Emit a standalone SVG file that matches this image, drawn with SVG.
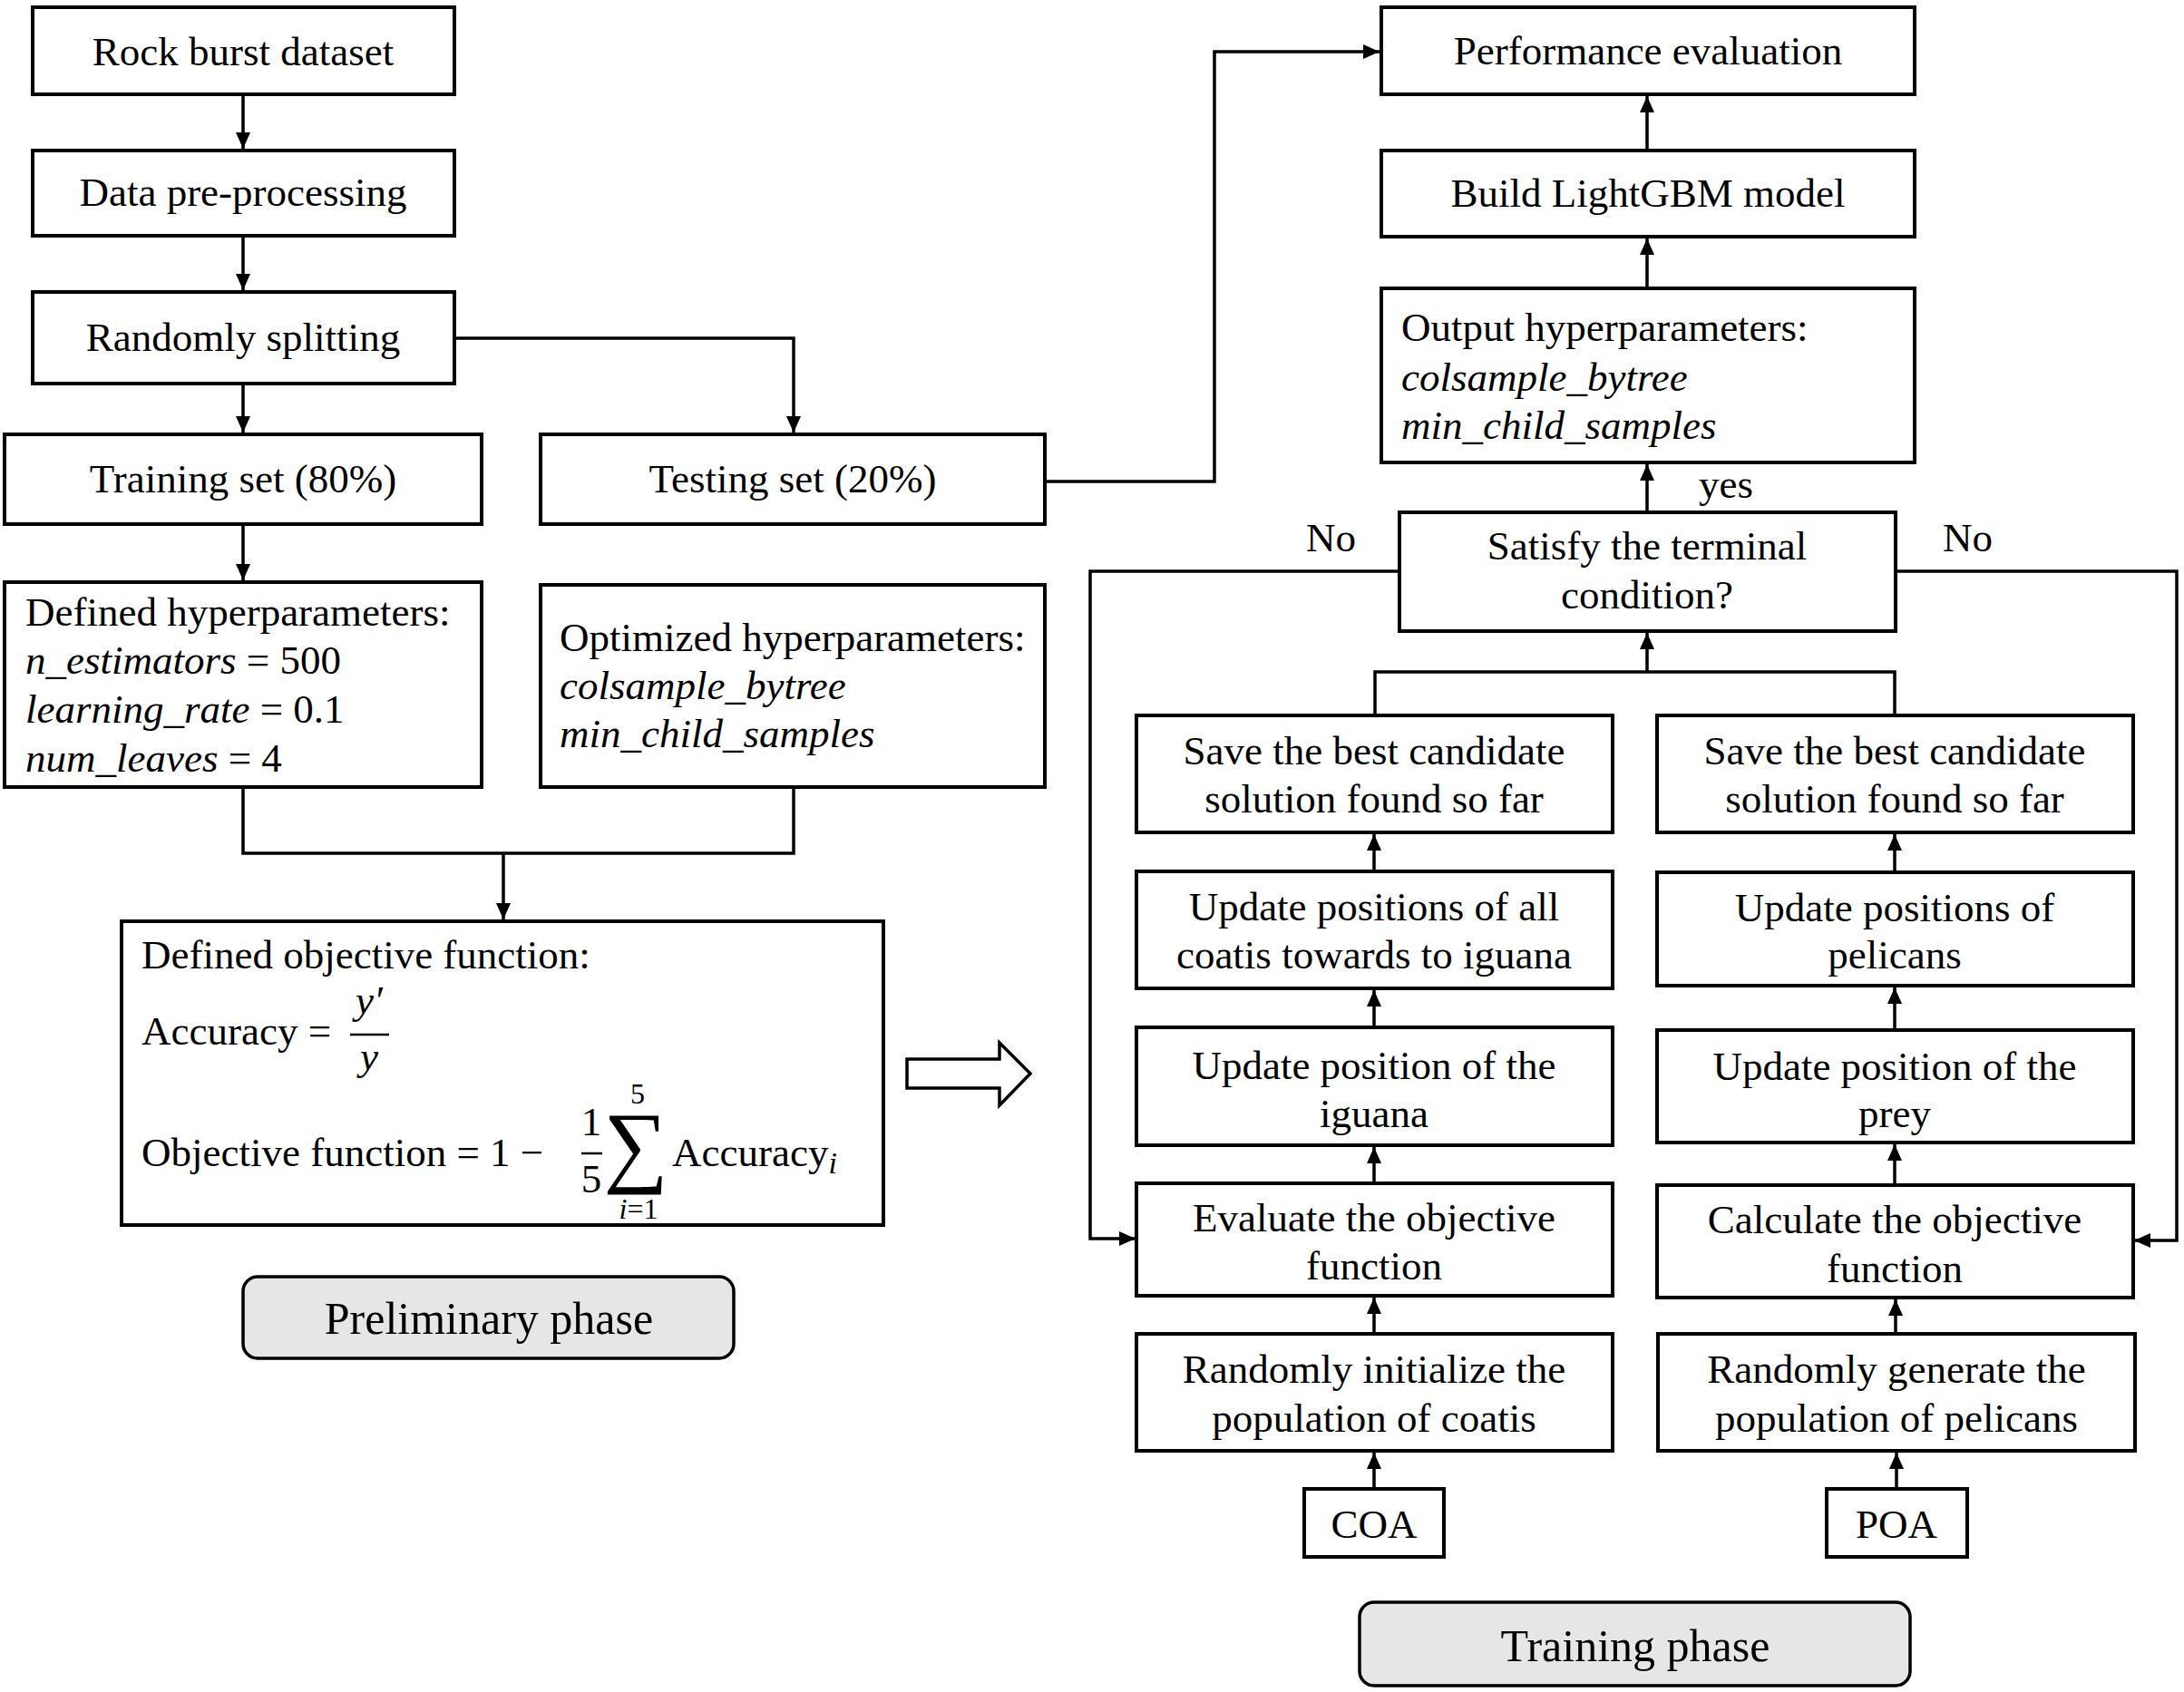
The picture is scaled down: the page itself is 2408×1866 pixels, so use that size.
<svg xmlns="http://www.w3.org/2000/svg" width="2408" height="1866" viewBox="0 0 2408 1866">
<style>
.box{fill:#fff;stroke:#000;stroke-width:4}
.phase{fill:#e6e6e6;stroke:#000;stroke-width:3.5}
.t{font-family:"Liberation Serif","Times New Roman",serif;font-size:45px;fill:#000}
.c{text-anchor:middle}
.i{font-style:italic}
.ph{font-size:50px}
.ln{fill:none;stroke:#000;stroke-width:3.5}
</style>
<defs>
<marker id="ah" viewBox="0 0 18 16" refX="18" refY="8" markerWidth="18" markerHeight="16" markerUnits="userSpaceOnUse" orient="auto">
<path d="M0,0 L18,8 L0,16 z" fill="#000"/>
</marker>
</defs>
<rect width="2408" height="1866" fill="#fff"/>

<g id="connectors">
<path class="ln" d="M268,104 V164" marker-end="url(#ah)"/>
<path class="ln" d="M268,260 V320" marker-end="url(#ah)"/>
<path class="ln" d="M268,423 V477" marker-end="url(#ah)"/>
<path class="ln" d="M501,373 H875 V477" marker-end="url(#ah)"/>
<path class="ln" d="M268,578 V640" marker-end="url(#ah)"/>
<path class="ln" d="M268,868 V941 H875 V868"/>
<path class="ln" d="M555,941 V1014" marker-end="url(#ah)"/>
<path class="ln" d="M1152,531 H1339 V57 H1521" marker-end="url(#ah)"/>
<path class="ln" d="M1816,166 V106" marker-end="url(#ah)"/>
<path class="ln" d="M1816,318 V263" marker-end="url(#ah)"/>
<path class="ln" d="M1816,564 V512" marker-end="url(#ah)"/>
<path class="ln" d="M1516,788 V741 H2089 V788"/>
<path class="ln" d="M1816,741 V698" marker-end="url(#ah)"/>
<path class="ln" d="M1542,630 H1202 V1366 H1252" marker-end="url(#ah)"/>
<path class="ln" d="M2090,630 H2400 V1368 H2353" marker-end="url(#ah)"/>
<path class="ln" d="M1515,960 V920" marker-end="url(#ah)"/>
<path class="ln" d="M1515,1133 V1092" marker-end="url(#ah)"/>
<path class="ln" d="M1515,1305 V1265" marker-end="url(#ah)"/>
<path class="ln" d="M1515,1471 V1431" marker-end="url(#ah)"/>
<path class="ln" d="M1515,1641 V1602" marker-end="url(#ah)"/>
<path class="ln" d="M2089,961 V920" marker-end="url(#ah)"/>
<path class="ln" d="M2089,1136 V1089" marker-end="url(#ah)"/>
<path class="ln" d="M2089,1307 V1262" marker-end="url(#ah)"/>
<path class="ln" d="M2090,1471 V1433" marker-end="url(#ah)"/>
<path class="ln" d="M2091,1641 V1602" marker-end="url(#ah)"/>
<polygon points="1000,1168 1102,1168 1102,1150 1136,1184 1102,1219 1102,1200 1000,1200" fill="#fff" stroke="#000" stroke-width="3.5"/>
<text class="t" x="1873" y="549">yes</text>
<text class="t" x="1440" y="608">No</text>
<text class="t" x="2142" y="608">No</text>
</g>

<g id="rock-burst-dataset">
<rect class="box" x="36" y="8" width="465" height="96"/>
<text class="t c" x="268" y="72">Rock burst dataset</text>
</g>
<g id="data-preprocessing">
<rect class="box" x="36" y="166" width="465" height="94"/>
<text class="t c" x="268" y="227">Data pre-processing</text>
</g>
<g id="randomly-splitting">
<rect class="box" x="36" y="322" width="465" height="101"/>
<text class="t c" x="268" y="387">Randomly splitting</text>
</g>
<g id="training-set">
<rect class="box" x="5" y="479" width="526" height="99"/>
<text class="t c" x="268" y="543">Training set (80%)</text>
</g>
<g id="testing-set">
<rect class="box" x="596" y="479" width="556" height="99"/>
<text class="t c" x="874" y="543">Testing set (20%)</text>
</g>
<g id="defined-hyperparameters">
<rect class="box" x="5" y="642" width="526" height="226"/>
<text class="t" x="28" y="690">Defined hyperparameters:</text>
<text class="t" x="28" y="743"><tspan class="i">n_estimators</tspan> = 500</text>
<text class="t" x="28" y="797"><tspan class="i">learning_rate</tspan> = 0.1</text>
<text class="t" x="28" y="851"><tspan class="i">num_leaves</tspan> = 4</text>
</g>
<g id="optimized-hyperparameters">
<rect class="box" x="596" y="645" width="556" height="223"/>
<text class="t" x="617" y="718">Optimized hyperparameters:</text>
<text class="t i" x="617" y="771">colsample_bytree</text>
<text class="t i" x="617" y="824">min_child_samples</text>
</g>
<g id="objective-function">
<rect class="box" x="134" y="1016" width="840" height="335"/>
<text class="t" x="156" y="1068">Defined objective function:</text>
<text class="t" x="156" y="1152">Accuracy =</text>
<text class="t i c" x="407" y="1118">y′</text>
<line x1="386" y1="1141" x2="429" y2="1141" stroke="#000" stroke-width="2.5"/>
<text class="t i c" x="407" y="1180">y</text>
<text class="t" x="156" y="1286">Objective function = 1 −</text>
<text class="t c" x="652" y="1252">1</text>
<line x1="641" y1="1272" x2="664" y2="1272" stroke="#000" stroke-width="2.5"/>
<text class="t c" x="652" y="1315">5</text>
<text class="t c" style="font-size:32px" x="703" y="1217">5</text>
<text class="t c" style="font-size:100px" x="701" y="1296">∑</text>
<text class="t c" style="font-size:32px" x="704" y="1344"><tspan class="i">i</tspan>=1</text>
<text class="t" x="741" y="1286">Accuracy<tspan class="i" style="font-size:34px" dy="8">i</tspan></text>
</g>
<g id="preliminary-phase">
<rect class="phase" x="268" y="1408" width="541" height="90" rx="16"/>
<text class="t c ph" x="539" y="1471">Preliminary phase</text>
</g>

<g id="performance-evaluation">
<rect class="box" x="1523" y="8" width="588" height="96"/>
<text class="t c" x="1817" y="71">Performance evaluation</text>
</g>
<g id="build-lightgbm">
<rect class="box" x="1523" y="166" width="588" height="95"/>
<text class="t c" x="1817" y="228">Build LightGBM model</text>
</g>
<g id="output-hyperparameters">
<rect class="box" x="1523" y="318" width="588" height="192"/>
<text class="t" x="1545" y="376">Output hyperparameters:</text>
<text class="t i" x="1545" y="431">colsample_bytree</text>
<text class="t i" x="1545" y="484">min_child_samples</text>
</g>
<g id="terminal-condition">
<rect class="box" x="1543" y="565" width="547" height="131"/>
<text class="t c" x="1816" y="617">Satisfy the terminal</text>
<text class="t c" x="1816" y="671">condition?</text>
</g>

<g id="coa-save">
<rect class="box" x="1253" y="789" width="525" height="129"/>
<text class="t c" x="1515" y="843">Save the best candidate</text>
<text class="t c" x="1515" y="896">solution found so far</text>
</g>
<g id="coa-update-coatis">
<rect class="box" x="1253" y="961" width="525" height="129"/>
<text class="t c" x="1515" y="1015">Update positions of all</text>
<text class="t c" x="1515" y="1068">coatis towards to iguana</text>
</g>
<g id="coa-update-iguana">
<rect class="box" x="1253" y="1133" width="525" height="130"/>
<text class="t c" x="1515" y="1190">Update position of the</text>
<text class="t c" x="1515" y="1243">iguana</text>
</g>
<g id="coa-evaluate">
<rect class="box" x="1253" y="1305" width="525" height="124"/>
<text class="t c" x="1515" y="1358">Evaluate the objective</text>
<text class="t c" x="1515" y="1411">function</text>
</g>
<g id="coa-init">
<rect class="box" x="1253" y="1471" width="525" height="129"/>
<text class="t c" x="1515" y="1525">Randomly initialize the</text>
<text class="t c" x="1515" y="1579">population of coatis</text>
</g>
<g id="coa">
<rect class="box" x="1438" y="1642" width="154" height="75"/>
<text class="t c" x="1515" y="1696">COA</text>
</g>

<g id="poa-save">
<rect class="box" x="1827" y="789" width="525" height="129"/>
<text class="t c" x="2089" y="843">Save the best candidate</text>
<text class="t c" x="2089" y="896">solution found so far</text>
</g>
<g id="poa-update-pelicans">
<rect class="box" x="1827" y="962" width="525" height="125"/>
<text class="t c" x="2089" y="1016">Update positions of</text>
<text class="t c" x="2089" y="1068">pelicans</text>
</g>
<g id="poa-update-prey">
<rect class="box" x="1827" y="1136" width="525" height="124"/>
<text class="t c" x="2089" y="1191">Update position of the</text>
<text class="t c" x="2089" y="1243">prey</text>
</g>
<g id="poa-calculate">
<rect class="box" x="1827" y="1307" width="525" height="124"/>
<text class="t c" x="2089" y="1360">Calculate the objective</text>
<text class="t c" x="2089" y="1414">function</text>
</g>
<g id="poa-init">
<rect class="box" x="1828" y="1471" width="526" height="129"/>
<text class="t c" x="2091" y="1525">Randomly generate the</text>
<text class="t c" x="2091" y="1579">population of pelicans</text>
</g>
<g id="poa">
<rect class="box" x="2014" y="1642" width="155" height="75"/>
<text class="t c" x="2091" y="1696">POA</text>
</g>
<g id="training-phase">
<rect class="phase" x="1499" y="1767" width="607" height="92" rx="16"/>
<text class="t c ph" x="1803" y="1832">Training phase</text>
</g>
</svg>
